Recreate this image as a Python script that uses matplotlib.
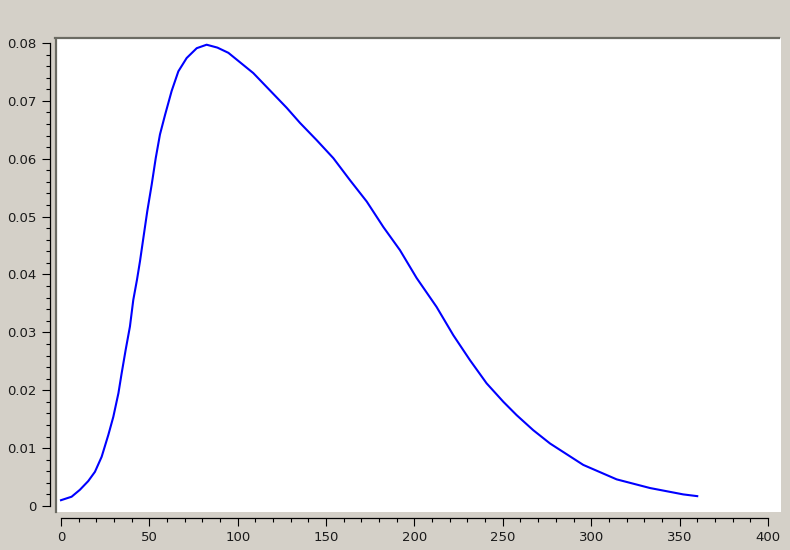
import numpy as np
import matplotlib
matplotlib.use("Agg")
import matplotlib.pyplot as plt
from matplotlib.ticker import MultipleLocator

# values
x_vals = [0, 6.0, 10.7, 15.4, 19.2, 23.0, 26.8, 29.6, 32.5, 34.3, 36.6, 39.0, 40.9,
          43.0, 44.7, 46.6, 48.8, 51.3, 53.6, 56.0, 58.9, 62.6, 66.4, 71.1, 76.8,
          82.4, 88.5, 94.7, 108.8, 127.7, 135.2, 144.7, 154.1, 163.5, 173.0, 182.4,
          191.8, 201.2, 212.5, 222.0, 231.4, 240.8, 250.3, 257.8, 267.2, 276.7,
          295.5, 314.4, 333.3, 352.1, 360.0]
y_vals = [0.0010, 0.0016, 0.0028, 0.0043, 0.0059, 0.0085, 0.0123, 0.0154, 0.0195,
          0.0229, 0.0270, 0.0310, 0.0356, 0.0391, 0.0423, 0.0463, 0.0509, 0.0555,
          0.0601, 0.0642, 0.0676, 0.0717, 0.0751, 0.0774, 0.0791, 0.0797, 0.0792,
          0.0783, 0.0748, 0.0688, 0.0662, 0.0632, 0.0601, 0.0563, 0.0526, 0.0482,
          0.0442, 0.0394, 0.0344, 0.0295, 0.0252, 0.0212, 0.0180, 0.0157, 0.0131,
          0.0108, 0.0071, 0.0046, 0.0031, 0.0020, 0.0017]

bg = '#d4d0c8'
W, H = 790, 550
fig = plt.figure(figsize=(W/100, H/100), dpi=100, facecolor=bg)
ax = fig.add_axes([56/W, (H-512)/H, (781-56)/W, (512-38)/H])
ax.set_facecolor('white')

ax.plot(x_vals, y_vals, color='#0000ff', lw=1.5, solid_joinstyle='round')

ax.set_xlim(-2.83, 407.4)
ax.set_ylim(-0.00104, 0.08086)

for s in ['top', 'right']:
    ax.spines[s].set_visible(False)
ax.spines['left'].set_position(('outward', 4))
ax.spines['bottom'].set_position(('outward', 4))
ax.spines['left'].set_bounds(0, 0.08)
ax.spines['bottom'].set_bounds(0, 400)
for s in ['left', 'bottom']:
    ax.spines[s].set_linewidth(0.9)
    ax.spines[s].set_color('black')

ax.xaxis.set_minor_locator(MultipleLocator(10))
ax.yaxis.set_minor_locator(MultipleLocator(0.002))
ax.set_yticks(np.arange(0, 0.0801, 0.01))
ax.set_yticklabels(['0', '0.01', '0.02', '0.03', '0.04', '0.05', '0.06', '0.07', '0.08'])
ax.set_xticks(np.arange(0, 401, 50))
ax.set_xticklabels([str(v) for v in range(0, 401, 50)])
ax.tick_params(which='major', length=5.6, width=0.8, pad=4.3, labelsize=9.5,
               colors='black', labelcolor='#1a1a1a')
ax.tick_params(which='minor', length=2.7, width=0.8)

# dark frame lines on top and left of the plot area
fig.add_artist(plt.Line2D([55/W, 779/W], [(H-38)/H, (H-38)/H], color='#6b6b63', lw=1.6))
fig.add_artist(plt.Line2D([56/W, 56/W], [(H-512)/H, (H-38.5)/H], color='#6b6b63', lw=1.6))

fig.savefig('out.png', dpi=100, facecolor=bg)
